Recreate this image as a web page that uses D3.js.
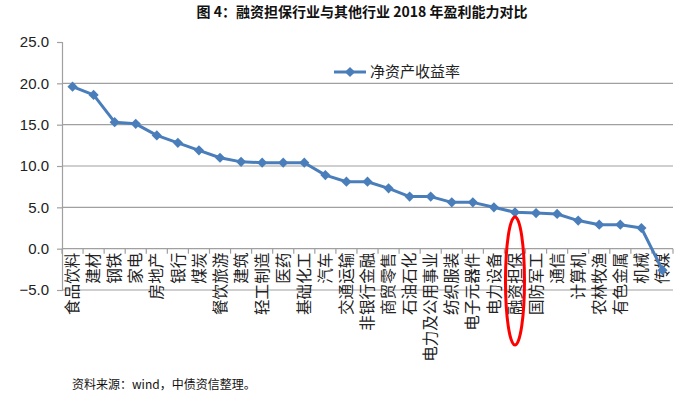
<!DOCTYPE html>
<html>
<head>
<meta charset="utf-8">
<script src="https://cdn.jsdelivr.net/npm/d3@7/dist/d3.min.js"></script>
<style>
body{margin:0;background:#fff;}
svg{display:block;}
</style>
</head>
<body>
<svg id="svg" width="700" height="399"></svg>
<script>
// categories and ROE values (%)
var categories=["食品饮料","建材","钢铁","家电","房地产","银行","煤炭","餐饮旅游","建筑","轻工制造",
    "医药","基础化工","汽车","交通运输","非银行金融","商贸零售","石油石化","电力及公用事业","纺织服装","电子元器件",
    "电力设备","融资担保","国防军工","通信","计算机","农林牧渔","有色金属","机械","传媒"];
var roe=[19.6,18.6,15.3,15.1,13.7,12.8,11.9,11.0,10.5,10.4,
    10.4,10.4,8.9,8.1,8.1,7.3,6.3,6.3,5.6,5.6,
    5.0,4.4,4.3,4.2,3.4,2.9,2.9,2.5,-2.6];
var yTicks=[-5,0,5,10,15,20,25];
var seriesName="净资产收益率";
var highlight="融资担保";
var title="图 4：融资担保行业与其他行业 2018 年盈利能力对比";
var source="资料来源：wind，中债资信整理。";

var svg=d3.select("#svg");
var plotL=62,plotR=673,plotT=42,plotB=290;
var blue="#4a7ebb", grid="#a0a0a0";
var cjk="'Noto Sans CJK SC','Noto Sans',sans-serif";

var x=d3.scaleBand().domain(categories).range([plotL,plotR]).padding(0)
var y=d3.scaleLinear().domain([-5,25]).range([plotB,plotT])

// title
svg.append("text")
    .attr("x",362).attr("y",17)
    .attr("text-anchor","middle")
    .style("font-family",cjk).style("font-weight","bold").style("font-size","14px")
    .style("fill","#111")
    .text(title)

// gridlines (no line at the top value)
svg.append("g").selectAll("line")
    .data(yTicks.filter(d=>d!==0&&d!==25))
    .enter().append("line")
        .attr("x1",plotL).attr("x2",plotR)
        .attr("y1",d=>y(d)).attr("y2",d=>y(d))
        .style("stroke",grid).style("stroke-width",1.2)

// y axis
var yAxis=svg.append("g")
        .attr("transform","translate("+plotL+",0)")
    .call(d3.axisLeft(y).tickValues(yTicks).tickFormat(d3.format(".1f")).tickSize(5).tickPadding(8))
yAxis.select(".domain").style("stroke",grid).style("stroke-width",1.2)
yAxis.selectAll("line").style("stroke",grid).style("stroke-width",1.2)
yAxis.selectAll("text")
    .style("font-family","'Liberation Sans',Arial,sans-serif").style("font-size","15px").style("fill","#222")

// category axis at zero
svg.append("line")
    .attr("x1",plotL).attr("x2",plotR)
    .attr("y1",y(0)).attr("y2",y(0))
    .style("stroke",grid).style("stroke-width",1.2)
svg.append("g").selectAll("line")
    .data(categories.map(c=>x(c)).concat([plotR]))
    .enter().append("line")
        .attr("x1",d=>d).attr("x2",d=>d)
        .attr("y1",y(0)).attr("y2",y(0)+5)
        .style("stroke",grid).style("stroke-width",1.2)

svg.append("g").selectAll("text")
    .data(categories)
    .enter().append("text")
        .attr("transform",d=>"translate("+(x(d)+x.bandwidth()/2)+","+(y(0)+4)+") rotate(-90)")
        .attr("text-anchor","end")
        .attr("dy","0.36em")
        .style("font-family",cjk).style("font-size","15.6px").style("fill","#222")
        .text(d=>d)

// line series
var pts=categories.map((c,i)=>[x(c)+x.bandwidth()/2,y(roe[i])]);
svg.append("path")
    .datum(pts)
    .attr("d",d3.line())
    .style("fill","none").style("stroke",blue).style("stroke-width",3).style("stroke-linejoin","round")

var marker=d3.symbol().type(d3.symbolSquare).size(52);
svg.append("g").selectAll("path")
    .data(pts)
    .enter().append("path")
        .attr("d",marker)
        .attr("transform",d=>"translate("+d[0]+","+d[1]+") rotate(45)")
        .style("fill",blue)

// legend
var lg=svg.append("g").attr("transform","translate(334,72)")
lg.append("line").attr("x1",0).attr("x2",32).attr("y1",0).attr("y2",0)
    .style("stroke",blue).style("stroke-width",3)
lg.append("path").attr("d",marker).attr("transform","translate(16,0) rotate(45)").style("fill",blue)
lg.append("text").attr("x",36).attr("y",0).attr("dy","0.36em")
    .style("font-family",cjk).style("font-size","15px").style("fill","#222")
    .text(seriesName)

// red ellipse round the highlighted category
svg.append("ellipse")
    .attr("cx",x(highlight)+x.bandwidth()/2)
    .attr("cy",281).attr("rx",9.5).attr("ry",64)
    .style("fill","none").style("stroke","#ff0000").style("stroke-width",3)

// source note
svg.append("text")
    .attr("x",72).attr("y",389)
    .style("font-family",cjk).style("font-size","12px").style("fill","#111")
    .text(source)
</script>
</body>
</html>
